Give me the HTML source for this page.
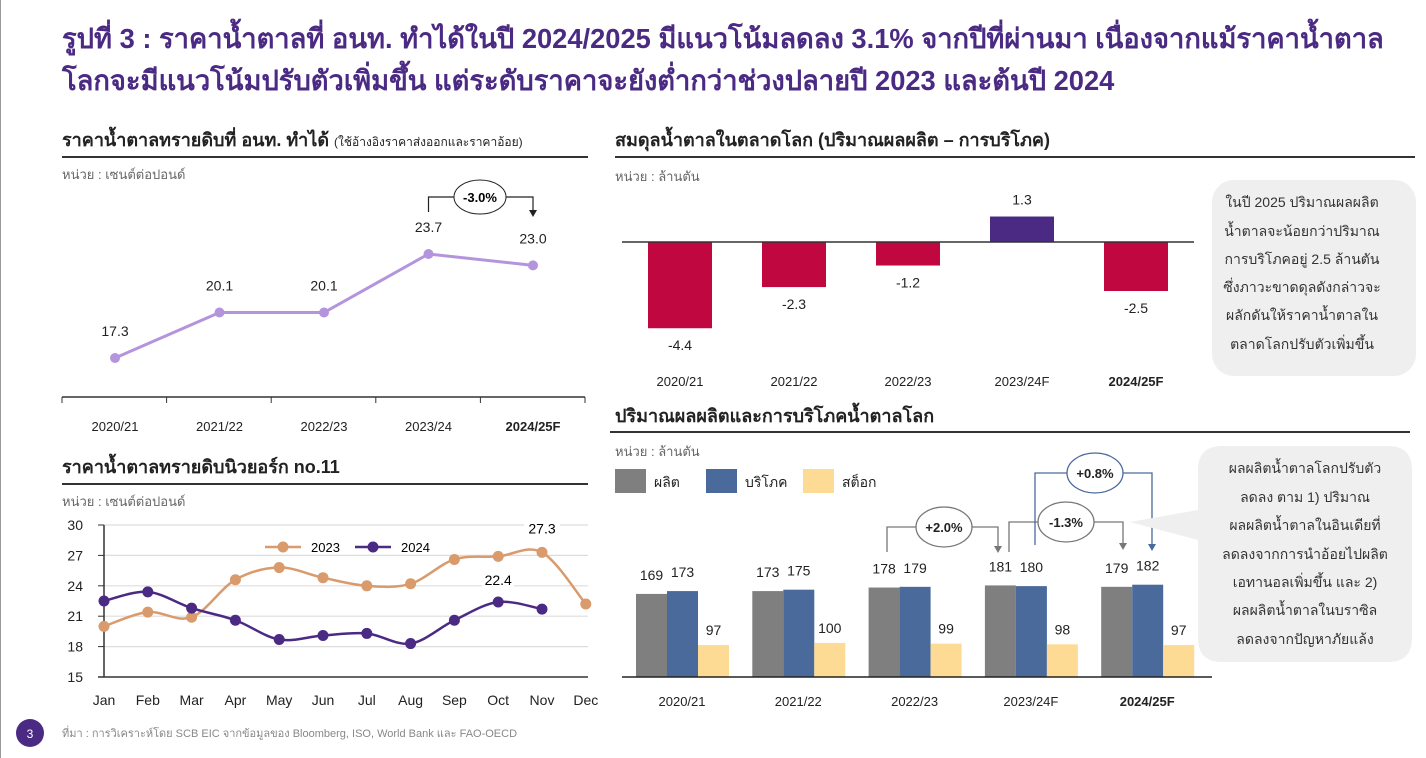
<!DOCTYPE html>
<html><head><meta charset="utf-8">
<style>
html,body{margin:0;padding:0;background:#fff;}
svg{display:block;font-family:"Liberation Sans","DejaVu Sans","Noto Sans CJK SC",sans-serif;}
</style></head>
<body>
<svg id="s" width="1426" height="758" viewBox="0 0 1426 758">
<line x1="0.5" y1="0" x2="0.5" y2="758" stroke="#999"/>
<g fill="#4b2a84" font-weight="bold" font-size="27.3">
<text x="62" y="48">รูปที่ 3 : ราคาน้ำตาลที่ อนท. ทำได้ในปี 2024/2025 มีแนวโน้มลดลง 3.1% จากปีที่ผ่านมา เนื่องจากแม้ราคาน้ำตาล</text>
<text x="62" y="90">โลกจะมีแนวโน้มปรับตัวเพิ่มขึ้น แต่ระดับราคาจะยังต่ำกว่าช่วงปลายปี 2023 และต้นปี 2024</text>
</g>
<text x="62" y="146" font-size="18" font-weight="bold" fill="#222">ราคาน้ำตาลทรายดิบที่ อนท. ทำได้ <tspan font-size="12" font-weight="normal">(ใช้อ้างอิงราคาส่งออกและราคาอ้อย)</tspan></text>
<line x1="62" y1="157" x2="588" y2="157" stroke="#333" stroke-width="2"/>
<text x="62" y="179" font-size="13" fill="#666">หน่วย : เซนต์ต่อปอนด์</text>

<text x="615" y="146" font-size="18" font-weight="bold" fill="#222">สมดุลน้ำตาลในตลาดโลก (ปริมาณผลผลิต – การบริโภค)</text>
<line x1="615" y1="157" x2="1415" y2="157" stroke="#333" stroke-width="2"/>
<text x="615" y="181" font-size="13" fill="#666">หน่วย : ล้านตัน</text>

<text x="62" y="473" font-size="18" font-weight="bold" fill="#222">ราคาน้ำตาลทรายดิบนิวยอร์ก no.11</text>
<line x1="62" y1="484" x2="588" y2="484" stroke="#333" stroke-width="2"/>
<text x="62" y="506" font-size="13" fill="#666">หน่วย : เซนต์ต่อปอนด์</text>

<text x="615" y="422" font-size="18" font-weight="bold" fill="#222">ปริมาณผลผลิตและการบริโภคน้ำตาลโลก</text>
<line x1="610" y1="432" x2="1410" y2="432" stroke="#333" stroke-width="2"/>
<text x="615" y="456" font-size="13" fill="#666">หน่วย : ล้านตัน</text>

<g id="c1"></g><g id="c2"></g><g id="c3"></g><g id="c4"></g>

<rect x="1212" y="180" width="204" height="196" rx="22" fill="#efefef"/>
<g font-size="14" fill="#333" text-anchor="middle">
<text x="1302" y="207">ในปี 2025 ปริมาณผลผลิต</text>
<text x="1302" y="236">น้ำตาลจะน้อยกว่าปริมาณ</text>
<text x="1302" y="264">การบริโภคอยู่ 2.5 ล้านตัน</text>
<text x="1302" y="292">ซึ่งภาวะขาดดุลดังกล่าวจะ</text>
<text x="1302" y="320">ผลักดันให้ราคาน้ำตาลใน</text>
<text x="1302" y="349">ตลาดโลกปรับตัวเพิ่มขึ้น</text>
</g>
<path d="M1222 446 H1388 Q1412 446 1412 470 V638 Q1412 662 1388 662 H1222 Q1198 662 1198 638 V540 L1130 522 L1198 510 V470 Q1198 446 1222 446Z" fill="#efefef"/>
<g font-size="14" fill="#333" text-anchor="middle">
<text x="1305" y="473">ผลผลิตน้ำตาลโลกปรับตัว</text>
<text x="1305" y="502">ลดลง ตาม 1) ปริมาณ</text>
<text x="1305" y="530">ผลผลิตน้ำตาลในอินเดียที่</text>
<text x="1305" y="559">ลดลงจากการนำอ้อยไปผลิต</text>
<text x="1305" y="587">เอทานอลเพิ่มขึ้น และ 2)</text>
<text x="1305" y="615">ผลผลิตน้ำตาลในบราซิล</text>
<text x="1305" y="644">ลดลงจากปัญหาภัยแล้ง</text>
</g>

<circle cx="30" cy="733" r="14" fill="#4b2a84"/>
<text x="30" y="738" font-size="12" fill="#fff" text-anchor="middle">3</text>
<text x="62" y="737" font-size="11" fill="#888">ที่มา : การวิเคราะห์โดย SCB EIC จากข้อมูลของ Bloomberg, ISO, World Bank และ FAO-OECD</text>
</svg>
<script>
const c1Cats=["2020/21","2021/22","2022/23","2023/24","2024/25F"];
const c1Vals=[17.3,20.1,20.1,23.7,23.0];
const c2Months=["Jan","Feb","Mar","Apr","May","Jun","Jul","Aug","Sep","Oct","Nov","Dec"];
const c2Ticks=[15,18,21,24,27,30];
const c2Y2023=[20.0,21.4,20.9,24.6,25.8,24.8,24.0,24.2,26.6,26.9,27.3,22.2];
const c2Y2024=[22.5,23.4,21.8,20.6,18.7,19.1,19.3,18.3,20.6,22.4,21.7];
const c3Cats=["2020/21","2021/22","2022/23","2023/24F","2024/25F"];
const c3Vals=[-4.4,-2.3,-1.2,1.3,-2.5];
const c4Cats=["2020/21","2021/22","2022/23","2023/24F","2024/25F"];
const c4Prod=[169,173,178,181,179];
const c4Cons=[173,175,179,180,182];
const c4Stock=[97,100,99,98,97];

const NS="http://www.w3.org/2000/svg";
function mk(parent,tag,attrs,txt){const e=document.createElementNS(NS,tag);for(const k in attrs)e.setAttribute(k,attrs[k]);if(txt!==undefined)e.textContent=txt;parent.appendChild(e);return e;}
function smooth(pts){let d="M"+pts[0][0]+" "+pts[0][1];for(let i=0;i<pts.length-1;i++){const p0=pts[Math.max(0,i-1)],p1=pts[i],p2=pts[i+1],p3=pts[Math.min(pts.length-1,i+2)];const t=1/6;d+=` C${p1[0]+(p2[0]-p0[0])*t} ${p1[1]+(p2[1]-p0[1])*t} ${p2[0]-(p3[0]-p1[0])*t} ${p2[1]-(p3[1]-p1[1])*t} ${p2[0]} ${p2[1]}`;}return d;}

(function(){
const g=document.getElementById('c1');
const x=i=>115+i*104.5, y=v=>358-(v-17.3)*16.25;
const ax=mk(g,'line',{x1:62,y1:397,x2:585,y2:397,stroke:'#333','stroke-width':1.5});

for(let i=0;i<=5;i++){const t=mk(g,'line',{x1:62+i*104.6,y1:397,x2:62+i*104.6,y2:403,stroke:'#333'});}
const ln=mk(g,'polyline',{points:c1Vals.map((v,i)=>x(i)+','+y(v)).join(' '),fill:'none',stroke:'#b494dc','stroke-width':3});

c1Vals.forEach((v,i)=>{
 const c=mk(g,'circle',{cx:x(i),cy:y(v),r:5,fill:'#b494dc'});
 
 const l=mk(g,'text',{x:x(i),y:y(v)-22,'font-size':14,'text-anchor':'middle',fill:'#222'},v.toFixed(1));
 
 const cl=mk(g,'text',{x:x(i),y:431,'font-size':13,'text-anchor':'middle',fill:'#222','font-weight':i==4?'bold':'normal'},c1Cats[i]);
 
});
const b=mk(g,'path',{d:`M${x(3)} 212 V197 H${x(4)} V212`,fill:'none',stroke:'#222','stroke-width':1.2});

const ar=mk(g,'path',{d:`M${x(4)-4} 210 L${x(4)+4} 210 L${x(4)} 217Z`,fill:'#222'});

const el=mk(g,'ellipse',{cx:480,cy:197,rx:26,ry:17,fill:'#fff',stroke:'#222'});

const et=mk(g,'text',{x:480,y:202,'font-size':13,'font-weight':'bold','text-anchor':'middle'},'-3.0%');

})();

(function(){
const g=document.getElementById('c2');
const x=i=>104+i*43.8, y=v=>677-(v-15)*(152/15);
c2Ticks.forEach(t=>{
 if(t>15){const gl=mk(g,'line',{x1:104,y1:y(t),x2:588,y2:y(t),stroke:'#ddd','stroke-width':1.2});}
 const tk=mk(g,'line',{x1:98,y1:y(t),x2:104,y2:y(t),stroke:'#333'});
 const tl=mk(g,'text',{x:83,y:y(t)+5,'font-size':14,'text-anchor':'end',fill:'#222'},t);
 
});
const ya=mk(g,'line',{x1:104,y1:y(30),x2:104,y2:y(15),stroke:'#333','stroke-width':1.5});
const xa=mk(g,'line',{x1:98,y1:y(15),x2:588,y2:y(15),stroke:'#333','stroke-width':1.5});
c2Months.forEach((m,i)=>{const t=mk(g,'text',{x:x(i),y:705,'font-size':14,'text-anchor':'middle',fill:'#222'},m);});
[[c2Y2023,'#d99a6c','ny11-2023'],[c2Y2024,'#4b2a84','ny11-2024']].forEach(([arr,col,nm])=>{
 const p=mk(g,'path',{d:smooth(arr.map((v,i)=>[x(i),y(v)])),fill:'none',stroke:col,'stroke-width':2.5});
 
 arr.forEach((v,i)=>{const c=mk(g,'circle',{cx:x(i),cy:y(v),r:5.5,fill:col});});
});
const bg=mk(g,'rect',{x:x(10)-18,y:y(27.3)-35,width:36,height:18,fill:'#fff'});
const a1=mk(g,'text',{x:x(10),y:y(27.3)-19,'font-size':14,'text-anchor':'middle'},c2Y2023[10].toFixed(1));
const bg2=mk(g,'rect',{x:x(9)-16,y:y(22.4)-30,width:32,height:16,fill:'#fff'});
const a2=mk(g,'text',{x:x(9),y:y(22.4)-17,'font-size':14,'text-anchor':'middle'},c2Y2024[9].toFixed(1));
[[265,'#d99a6c','2023'],[355,'#4b2a84','2024']].forEach(([lx,col,lab])=>{
 const l=mk(g,'line',{x1:lx,y1:547,x2:lx+36,y2:547,stroke:col,'stroke-width':2.5});
 const c=mk(g,'circle',{cx:lx+18,cy:547,r:5.5,fill:col});
 const t=mk(g,'text',{x:lx+46,y:552,'font-size':13},lab);
});
})();

(function(){
const g=document.getElementById('c3');
const x=i=>680+i*114, base=242, s=19.6;
c3Vals.forEach((v,i)=>{
 const h=Math.abs(v)*s;
 const r=mk(g,'rect',{x:x(i)-32,y:v>=0?base-h:base,width:64,height:h,fill:v>=0?'#4b2a84':'#c0073f'});
 
 const t=mk(g,'text',{x:x(i),y:v>=0?base-h-12:base+h+22,'font-size':14,'text-anchor':'middle',fill:'#222'},v.toFixed(1));
 
 const c=mk(g,'text',{x:x(i),y:386,'font-size':13,'text-anchor':'middle',fill:'#222','font-weight':i==4?'bold':'normal'},c3Cats[i]);
 
});
const a=mk(g,'line',{x1:622,y1:base,x2:1194,y2:base,stroke:'#333','stroke-width':1.5});
})();

(function(){
const g=document.getElementById('c4');
const gx=i=>636+i*116.3, base=677, y0=52, s=0.71, bw=31;
const h=v=>(v-y0)*s;
const cols=['#7f7f7f','#4a6a9c','#fedb95'];
c4Cats.forEach((c,i)=>{
 [c4Prod[i],c4Cons[i],c4Stock[i]].forEach((v,j)=>{
  const r=mk(g,'rect',{x:gx(i)+j*bw,y:base-h(v),width:bw,height:h(v),fill:cols[j]});
  
  const t=mk(g,'text',{x:gx(i)+j*bw+bw/2,y:base-h(v)-(j==2?10:14),'font-size':14,'text-anchor':'middle',fill:'#222'},v);
  
 });
 const cl=mk(g,'text',{x:gx(i)+46,y:706,'font-size':13,'text-anchor':'middle',fill:'#222','font-weight':i==4?'bold':'normal'},c);
 
});
const a=mk(g,'line',{x1:622,y1:base,x2:1212,y2:base,stroke:'#222','stroke-width':1.5});
[[615,0,'ผลิต'],[706,1,'บริโภค'],[803,2,'สต็อก']].forEach(([lx,j,lab])=>{
 const r=mk(g,'rect',{x:lx,y:469,width:31,height:24,fill:cols[j]});
 const t=mk(g,'text',{x:lx+39,y:487,'font-size':14,fill:'#222'},lab);
});
function ann(x1,x2,yTop,y1,y2,col,label,cx,nm){
 const p=mk(g,'path',{d:`M${x1} ${y1} V${yTop} H${x2} V${y2-6}`,fill:'none',stroke:col,'stroke-width':1.3});
 const ar=mk(g,'path',{d:`M${x2-4} ${y2-7} L${x2+4} ${y2-7} L${x2} ${y2}Z`,fill:col});
 const e=mk(g,'ellipse',{cx:cx,cy:yTop,rx:28,ry:20,fill:'#fff',stroke:col,'stroke-width':1.3});
 const t=mk(g,'text',{x:cx,y:yTop+5,'font-size':13,'font-weight':'bold','text-anchor':'middle',fill:'#222'},label);
}
ann(887,998,527,552,553,'#777','+2.0%',944,'prod-change-2023');
ann(1009,1123,522,552,550,'#777','-1.3%',1066,'prod-change-2024');
ann(1035,1152,473,545,551,'#4a6a9c','+0.8%',1095,'cons-change-2024');
})();
</script>
</body></html>
